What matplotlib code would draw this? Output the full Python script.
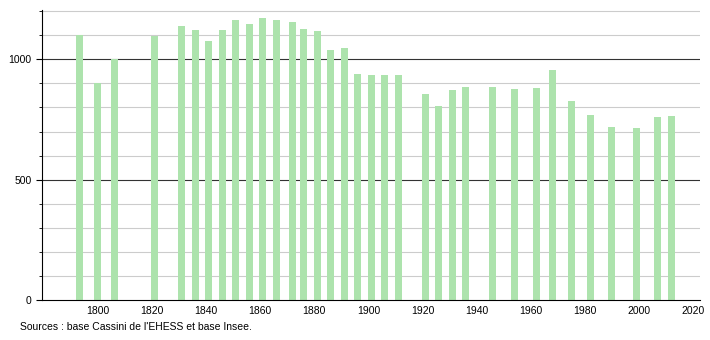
import matplotlib.pyplot as plt
from matplotlib.ticker import MultipleLocator

# --- DATA ---
years = [1793, 1800, 1806, 1821, 1831, 1836, 1841, 1846, 1851, 1856,
         1861, 1866, 1872, 1876, 1881, 1886, 1891, 1896, 1901, 1906,
         1911, 1921, 1926, 1931, 1936, 1946, 1954, 1962, 1968, 1975,
         1982, 1990, 1999, 2007, 2012]
population = [1100, 900, 1000, 1098, 1138, 1121, 1076, 1121, 1163, 1146,
              1171, 1165, 1157, 1124, 1117, 1038, 1049, 938, 933, 933,
              933, 854, 808, 872, 887, 887, 875, 880, 954, 826,
              767, 717, 713, 759, 764]
x_ticks = [1800, 1820, 1840, 1860, 1880, 1900, 1920, 1940, 1960, 1980, 2000, 2020]
y_ticks = [0, 500, 1000]

plt.rcParams['font.family'] = ['Liberation Sans', 'DejaVu Sans']

fig = plt.figure(figsize=(7.1, 3.4), dpi=100)
ax = fig.add_axes([42 / 710, 40 / 340, 658 / 710, 290 / 340])

# grid lines: light every 100, dark at 500 / 1000
for v in range(100, 1300, 100):
    if v % 500 == 0:
        ax.axhline(v, color='#333333', linewidth=0.8, zorder=1)
    else:
        ax.axhline(v, color='#cccccc', linewidth=0.8, zorder=1)

ax.bar(years, population, width=2.6, color='#ade3ad', zorder=2)

ax.set_xlim(1779.3, 2022.6)
ax.set_ylim(0, 1205)
ax.set_xticks(x_ticks)
ax.set_yticks(y_ticks)
ax.yaxis.set_minor_locator(MultipleLocator(100))
ax.tick_params(axis='x', length=0, labelsize=7.5, pad=4)
ax.tick_params(axis='y', which='major', length=4, labelsize=7.5)
ax.tick_params(axis='y', which='minor', length=2)

for side in ['top', 'right']:
    ax.spines[side].set_visible(False)
ax.spines['left'].set_linewidth(0.8)
ax.spines['bottom'].set_linewidth(0.8)

fig.text(20 / 710, 1 - 327 / 340, "Sources : base Cassini de l'EHESS et base Insee.",
         fontsize=7.5, va='center', ha='left')

fig.savefig('out.png', dpi=100)
